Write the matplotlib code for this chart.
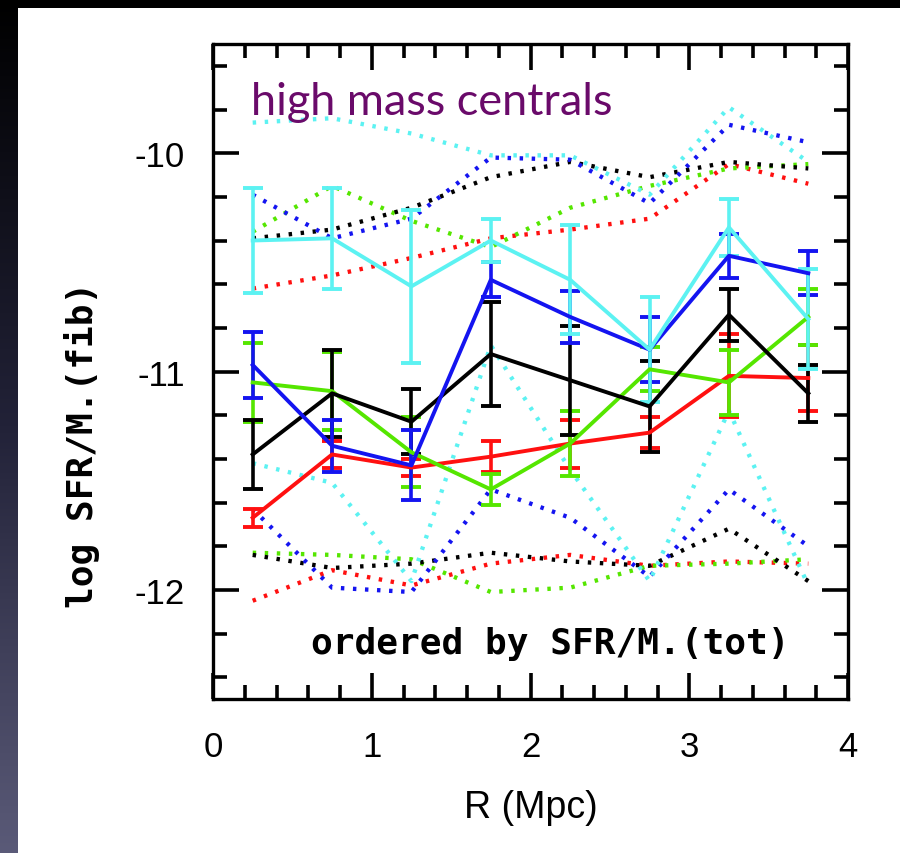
import numpy as np
import matplotlib
matplotlib.use("Agg")
import matplotlib.pyplot as plt
from matplotlib.ticker import MultipleLocator

plt.rcParams["axes.unicode_minus"] = False

# radial bins (Mpc)
r = [0.25, 0.75, 1.25, 1.75, 2.25, 2.75, 3.25, 3.75]

# median log SFR/M*(fib) per quintile, with errors
red_med = [-11.67, -11.38, -11.44, -11.39, -11.33, -11.28, -11.02, -11.03]
red_err = [0.04, 0.06, 0.04, 0.07, 0.11, 0.07, 0.19, 0.15]
green_med = [-11.05, -11.09, -11.37, -11.54, -11.33, -10.99, -11.05, -10.75]
green_err = [0.18, 0.18, 0.16, 0.07, 0.15, 0.10, 0.15, 0.13]
black_med = [-11.38, -11.10, -11.23, -10.92, -11.04, -11.16, -10.74, -11.10]
black_err = [0.16, 0.20, 0.15, 0.24, 0.25, 0.21, 0.12, 0.13]
blue_med = [-10.97, -11.34, -11.43, -10.58, -10.75, -10.90, -10.47, -10.55]
blue_err = [0.15, 0.12, 0.16, 0.08, 0.12, 0.15, 0.10, 0.10]
cyan_med = [-10.40, -10.39, -10.61, -10.40, -10.58, -10.90, -10.34, -10.76]
cyan_err = [0.24, 0.23, 0.35, 0.10, 0.25, 0.24, 0.13, 0.23]

# upper / lower percentiles (dotted)
red_hi = [-10.62, -10.56, -10.48, -10.39, -10.35, -10.30, -10.05, -10.14]
green_hi = [-10.36, -10.15, -10.31, -10.43, -10.25, -10.15, -10.07, -10.05]
black_hi = [-10.39, -10.35, -10.25, -10.11, -10.04, -10.11, -10.04, -10.07]
blue_hi = [-10.19, -10.39, -10.30, -10.02, -10.03, -10.23, -9.87, -9.95]
cyan_hi = [-9.86, -9.84, -9.91, -10.01, -10.01, -10.19, -9.79, -10.04]

red_lo = [-12.05, -11.91, -11.98, -11.88, -11.84, -11.89, -11.87, -11.88]
green_lo = [-11.83, -11.84, -11.86, -12.01, -11.99, -11.89, -11.88, -11.86]
black_lo = [-11.84, -11.90, -11.88, -11.83, -11.87, -11.89, -11.72, -11.96]
blue_lo = [-11.63, -11.99, -12.01, -11.54, -11.67, -11.94, -11.54, -11.80]
cyan_lo = [-11.42, -11.51, -11.96, -10.88, -11.45, -11.96, -11.18, -11.98]

RED, GREEN, BLACK, BLUE, CYAN = "#ff1010", "#55e600", "#000000", "#1414f0", "#5cf2f2"

fig = plt.figure(figsize=(9, 8.54), dpi=100, facecolor="black")

# dark gradient strip on the left, white slide area
gax = fig.add_axes([0, 0, 18 / 900, 1])
grad = np.linspace(0, 1, 256).reshape(-1, 1)
cmap = matplotlib.colors.LinearSegmentedColormap.from_list("bg", ["#000000", "#222238", "#5a5a78"])
gax.imshow(grad, aspect="auto", cmap=cmap, extent=[0, 1, 1, 0])
gax.axis("off")
wax = fig.add_axes([18 / 900, 0, 1 - 18 / 900, 1 - 9 / 854])
wax.set_facecolor("white")
wax.set_xticks([])
wax.set_yticks([])
for s in wax.spines.values():
    s.set_visible(False)
wax.set_zorder(-5)
gax.set_zorder(-6)

ax = fig.add_axes([213 / 900, 1 - 700 / 854, 635 / 900, 655 / 854])
ax.set_zorder(2)
ax.set_facecolor("white")

dot = (0, (0.8, 2.0))
for hi, lo, c in [(red_hi, red_lo, RED), (green_hi, green_lo, GREEN), (black_hi, black_lo, BLACK),
                  (blue_hi, blue_lo, BLUE), (cyan_hi, cyan_lo, CYAN)]:
    ax.plot(r, hi, color=c, lw=3.1, linestyle=dot, dash_capstyle="butt")
    ax.plot(r, lo, color=c, lw=3.1, linestyle=dot, dash_capstyle="butt")

for med, err, c in [(red_med, red_err, RED), (green_med, green_err, GREEN), (black_med, black_err, BLACK),
                    (blue_med, blue_err, BLUE), (cyan_med, cyan_err, CYAN)]:
    ax.errorbar(r, med, yerr=err, color=c, lw=2.8, elinewidth=2.6, capsize=7.5, capthick=2.8)

ax.set_xlim(0, 4)
ax.set_ylim(-12.5, -9.5)
ax.xaxis.set_major_locator(MultipleLocator(1))
ax.xaxis.set_minor_locator(MultipleLocator(0.2))
ax.yaxis.set_major_locator(MultipleLocator(1))
ax.yaxis.set_minor_locator(MultipleLocator(0.2))
ax.tick_params(which="both", direction="in", top=True, right=True, width=2.6, color="black")
ax.tick_params(which="major", length=19, labelsize=25)
ax.tick_params(axis="x", which="major", pad=22)
ax.tick_params(axis="y", which="major", pad=20)
ax.tick_params(which="minor", length=10)
for s in ax.spines.values():
    s.set_linewidth(2.4)
for lab in ax.get_xticklabels() + ax.get_yticklabels():
    lab.set_family("Liberation Sans")

ax.set_xlabel("R (Mpc)", fontsize=27, family="Liberation Sans", labelpad=19)
ax.text(-0.207, 0.389, "log SFR/M.(fib)", transform=ax.transAxes, rotation=90,
        fontsize=26, fontweight="bold", family="DejaVu Sans Mono", ha="center", va="center")

ax.text(0.24, -9.82, "high mass centrals", fontsize=32.5, color="#6a0a6a",
        family="Lato", va="baseline")
ax.text(0.531, 0.085, "ordered by SFR/M.(tot)", transform=ax.transAxes, fontsize=26,
        fontweight="bold", family="DejaVu Sans Mono", ha="center", va="center")

fig.savefig("out.png", dpi=100, facecolor=fig.get_facecolor())
